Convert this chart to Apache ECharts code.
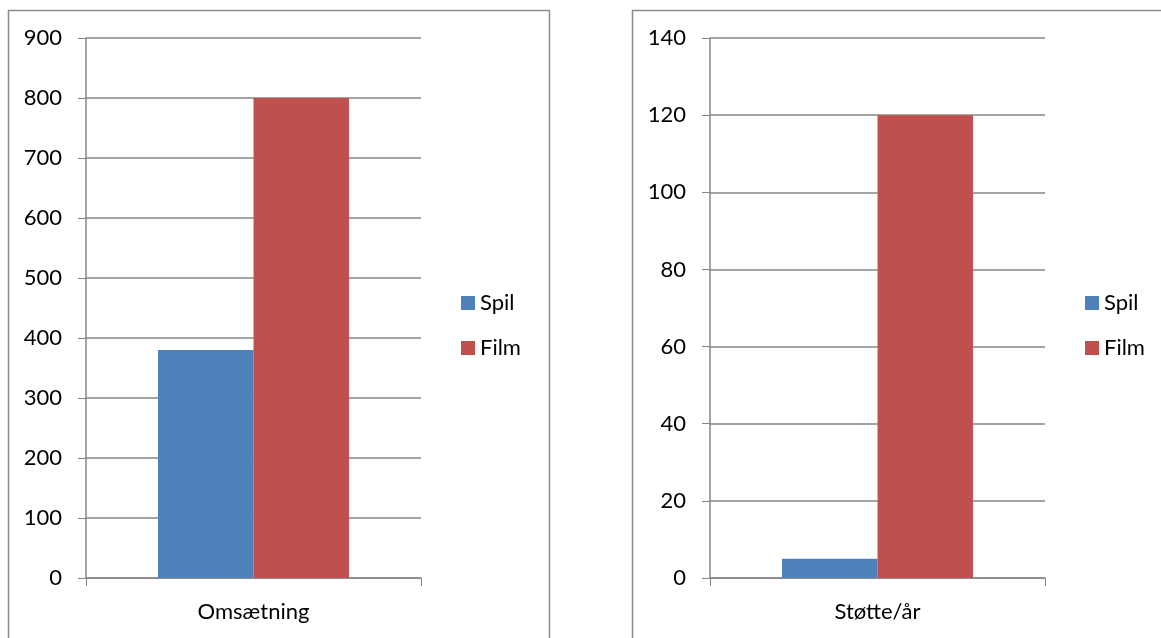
<!DOCTYPE html>
<html>
<head>
<meta charset="utf-8">
<script src="https://cdn.jsdelivr.net/npm/echarts@6/dist/echarts.min.js"></script>
<style>
  html, body { margin: 0; padding: 0; background: #fff; }
  #chart { width: 1161px; height: 638px; }
</style>
</head>
<body>
<div id="chart"></div>
<script>
// Series names shared by both panels
const seriesNames = ['Spil', 'Film'];
const seriesColors = ['#4F81BD', '#C0504D'];

// Left panel: turnover
const leftCategories = ['Omsætning'];
const leftSpil = [380];
const leftFilm = [800];
const leftAxis = { min: 0, max: 900, interval: 100 };

// Right panel: support per year
const rightCategories = ['Støtte/år'];
const rightSpil = [5];
const rightFilm = [120];
const rightAxis = { min: 0, max: 140, interval: 20 };

const FONT = 'Lato, "Open Sans", sans-serif';
const GRAY = '#868686';

function xAxisFor(cats, gridIndex) {
  return {
    type: 'category', gridIndex, data: cats,
    axisLine: { lineStyle: { color: GRAY, width: 1.5 } },
    axisTick: { show: true, length: 8, lineStyle: { color: GRAY } },
    axisLabel: { color: '#000', fontFamily: FONT, fontSize: 22, margin: 23 }
  };
}
function yAxisFor(ax, gridIndex) {
  return {
    type: 'value', gridIndex, min: ax.min, max: ax.max, interval: ax.interval,
    axisLine: { show: true, lineStyle: { color: GRAY, width: 1.5 } },
    axisTick: { show: true, length: 8, lineStyle: { color: GRAY } },
    axisLabel: { color: '#000', fontFamily: FONT, fontSize: 22, margin: 24 },
    splitLine: { show: true, lineStyle: { color: GRAY, width: 1.5 } }
  };
}
function barsFor(spil, film, idx) {
  return [
    { name: seriesNames[0], type: 'bar', xAxisIndex: idx, yAxisIndex: idx, data: spil,
      itemStyle: { color: seriesColors[0] }, barGap: '0%', barCategoryGap: '43%' },
    { name: seriesNames[1], type: 'bar', xAxisIndex: idx, yAxisIndex: idx, data: film,
      itemStyle: { color: seriesColors[1] }, barGap: '0%', barCategoryGap: '43%' }
  ];
}
function legendAt(left) {
  return {
    orient: 'vertical', left, top: 287, data: seriesNames,
    icon: 'rect', itemWidth: 14, itemHeight: 14, itemGap: 23,
    selectedMode: false,
    textStyle: { color: '#000', fontFamily: FONT, fontSize: 22, lineHeight: 22 }
  };
}

const chart = echarts.init(document.getElementById('chart'), null, { renderer: 'canvas' });
chart.setOption({
  backgroundColor: '#fff',
  animation: false,
  graphic: [
    { type: 'rect', shape: { x: 8.5, y: 10.5, width: 541, height: 700 },
      style: { fill: 'none', stroke: '#8c8c8c', lineWidth: 1.5 }, silent: true, z: 0 },
    { type: 'rect', shape: { x: 632.5, y: 10.5, width: 600, height: 700 },
      style: { fill: 'none', stroke: '#8c8c8c', lineWidth: 1.5 }, silent: true, z: 0 }
  ],
  legend: [legendAt(456), legendAt(1080)],
  grid: [
    { left: 86, right: 740, top: 38, bottom: 60 },
    { left: 710, right: 116, top: 38, bottom: 60 }
  ],
  xAxis: [xAxisFor(leftCategories, 0), xAxisFor(rightCategories, 1)],
  yAxis: [yAxisFor(leftAxis, 0), yAxisFor(rightAxis, 1)],
  series: [...barsFor(leftSpil, leftFilm, 0), ...barsFor(rightSpil, rightFilm, 1)]
});
</script>
</body>
</html>
